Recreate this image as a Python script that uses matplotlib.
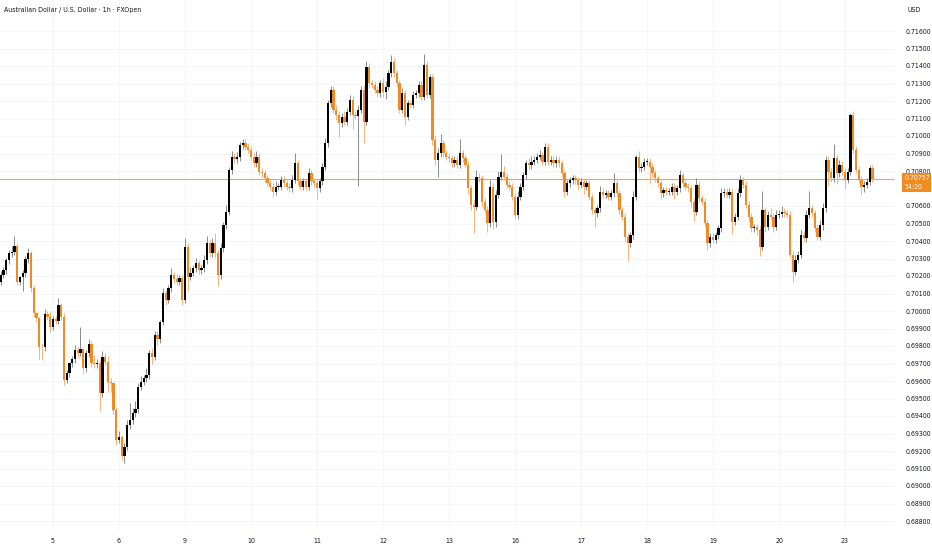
import numpy as np
import matplotlib.pyplot as plt
from matplotlib.patches import Rectangle

# hourly closes, AUD/USD (FXOpen)
closes = [
    0.70206, 0.70234, 0.70291, 0.70330, 0.70339, 0.70371, 0.70168, 0.70192, 0.70215, 0.70295, 0.70330, 0.70130,
    0.69987, 0.69958, 0.69796, 0.69792, 0.69981, 0.69968, 0.69910, 0.69952, 0.69945, 0.70034, 0.69968, 0.69606,
    0.69644, 0.69701, 0.69724, 0.69777, 0.69762, 0.69781, 0.69672, 0.69758, 0.69811, 0.69701, 0.69697, 0.69705,
    0.69530, 0.69739, 0.69710, 0.69596, 0.69587, 0.69434, 0.69263, 0.69282, 0.69170, 0.69225, 0.69348, 0.69377,
    0.69415, 0.69438, 0.69567, 0.69596, 0.69615, 0.69634, 0.69758, 0.69739, 0.69863, 0.69838, 0.69939, 0.70101,
    0.70063, 0.70129, 0.70205, 0.70181, 0.70167, 0.70186, 0.70063, 0.70367, 0.70196, 0.70219, 0.70244, 0.70272,
    0.70234, 0.70244, 0.70291, 0.70386, 0.70329, 0.70386, 0.70329, 0.70205, 0.70358, 0.70491, 0.70567, 0.70805,
    0.70882, 0.70866, 0.70878, 0.70948, 0.70962, 0.70939, 0.70920, 0.70882, 0.70844, 0.70882, 0.70797, 0.70787,
    0.70759, 0.70730, 0.70711, 0.70682, 0.70711, 0.70711, 0.70749, 0.70730, 0.70711, 0.70701, 0.70749, 0.70844,
    0.70740, 0.70711, 0.70740, 0.70711, 0.70787, 0.70740, 0.70730, 0.70701, 0.70740, 0.70825, 0.70959, 0.71187,
    0.71263, 0.71149, 0.71120, 0.71073, 0.71111, 0.71082, 0.71139, 0.71206, 0.71120, 0.71115, 0.71149, 0.71263,
    0.71082, 0.71397, 0.71301, 0.71292, 0.71263, 0.71244, 0.71301, 0.71254, 0.71282, 0.71359, 0.71425, 0.71359,
    0.71301, 0.71149, 0.71244, 0.71111, 0.71187, 0.71178, 0.71235, 0.71244, 0.71292, 0.71225, 0.71406, 0.71235,
    0.71336, 0.70978, 0.70863, 0.70901, 0.70959, 0.70901, 0.70882, 0.70873, 0.70844, 0.70863, 0.70835, 0.70901,
    0.70873, 0.70835, 0.70701, 0.70606, 0.70597, 0.70768, 0.70759, 0.70625, 0.70578, 0.70501, 0.70711, 0.70511,
    0.70663, 0.70768, 0.70797, 0.70768, 0.70720, 0.70711, 0.70653, 0.70548, 0.70653, 0.70710, 0.70777, 0.70844,
    0.70834, 0.70853, 0.70863, 0.70882, 0.70891, 0.70853, 0.70939, 0.70853, 0.70863, 0.70844, 0.70863, 0.70844,
    0.70786, 0.70682, 0.70729, 0.70748, 0.70758, 0.70748, 0.70720, 0.70739, 0.70710, 0.70729, 0.70653, 0.70577,
    0.70558, 0.70586, 0.70682, 0.70663, 0.70672, 0.70653, 0.70672, 0.70729, 0.70672, 0.70577, 0.70539, 0.70424,
    0.70386, 0.70434, 0.70653, 0.70882, 0.70815, 0.70825, 0.70853, 0.70853, 0.70825, 0.70787, 0.70758, 0.70729,
    0.70672, 0.70691, 0.70682, 0.70682, 0.70710, 0.70682, 0.70701, 0.70777, 0.70729, 0.70710, 0.70701, 0.70625,
    0.70567, 0.70720, 0.70644, 0.70625, 0.70501, 0.70387, 0.70425, 0.70406, 0.70434, 0.70472, 0.70672, 0.70682,
    0.70663, 0.70682, 0.70510, 0.70539, 0.70672, 0.70748, 0.70720, 0.70606, 0.70539, 0.70472, 0.70478, 0.70463,
    0.70367, 0.70577, 0.70482, 0.70549, 0.70539, 0.70482, 0.70549, 0.70555, 0.70568, 0.70558, 0.70549, 0.70320,
    0.70225, 0.70292, 0.70320, 0.70435, 0.70416, 0.70549, 0.70587, 0.70558, 0.70473, 0.70425, 0.70492, 0.70587,
    0.70863, 0.70796, 0.70758, 0.70873, 0.70787, 0.70835, 0.70796, 0.70749, 0.70796, 0.71120, 0.70920, 0.70806,
    0.70749, 0.70711, 0.70720, 0.70739, 0.70816, 0.70757,
]
first_open = 0.70168

# wick lengths in pips above / below the body
wick_up = [
    2, 2, 1, 2, 3, 6, 2, 1, 2, 2, 3, 1,
    2, 1, 1, 2, 3, 2, 3, 2, 2, 4, 1, 2,
    2, 1, 2, 3, 2, 13, 1, 2, 3, 2, 5, 2,
    2, 3, 2, 3, 2, 1, 2, 3, 1, 2, 3, 10,
    3, 5, 2, 3, 2, 4, 2, 3, 2, 2, 1, 3,
    2, 2, 4, 2, 3, 2, 2, 5, 2, 3, 2, 3,
    2, 2, 3, 4, 2, 3, 6, 2, 3, 2, 4, 2,
    3, 2, 3, 2, 2, 2, 2, 2, 2, 3, 2, 2,
    2, 2, 2, 2, 3, 2, 2, 2, 2, 2, 3, 6,
    2, 2, 2, 2, 3, 2, 2, 2, 2, 2, 3, 2,
    2, 2, 3, 2, 2, 3, 2, 3, 2, 2, 3, 2,
    3, 3, 2, 2, 2, 2, 2, 3, 3, 2, 4, 2,
    2, 2, 3, 2, 2, 2, 2, 2, 2, 2, 6, 2,
    2, 2, 3, 3, 5, 2, 2, 2, 2, 2, 2, 8,
    2, 2, 2, 2, 3, 4, 2, 2, 2, 2, 4, 2,
    3, 3, 10, 3, 2, 2, 2, 2, 3, 2, 2, 2,
    3, 3, 2, 2, 3, 2, 2, 2, 2, 2, 2, 2,
    2, 2, 2, 2, 2, 2, 2, 2, 2, 2, 2, 2,
    2, 2, 3, 2, 2, 2, 2, 6, 2, 2, 2, 2,
    2, 2, 3, 1, 3, 2, 2, 2, 2, 2, 2, 2,
    2, 2, 2, 2, 2, 2, 2, 3, 2, 2, 2, 2,
    2, 4, 2, 2, 2, 2, 2, 2, 2, 2, 3, 2,
    2, 2, 2, 2, 3, 3, 2, 2, 2, 2, 2, 2,
    2, 11, 2, 2, 4, 2, 3, 2, 3, 2, 2, 2,
    2, 3, 2, 3, 2, 3, 10, 2, 2, 2, 3, 3,
    2, 2, 2, 8, 2, 3, 2, 2, 2, 1, 2, 2,
    2, 2, 2, 2, 2, 2,
]
wick_dn = [
    2, 2, 2, 2, 2, 2, 2, 2, 8, 2, 2, 2,
    2, 2, 7, 7, 2, 2, 3, 2, 2, 2, 2, 3,
    2, 2, 2, 2, 3, 2, 3, 2, 2, 2, 2, 2,
    10, 2, 2, 6, 5, 2, 3, 2, 2, 4, 2, 2,
    2, 2, 2, 2, 2, 2, 2, 4, 2, 3, 2, 2,
    3, 2, 2, 2, 2, 2, 3, 2, 8, 2, 2, 2,
    2, 2, 2, 2, 2, 2, 2, 6, 2, 2, 2, 2,
    2, 2, 2, 2, 2, 2, 2, 2, 2, 2, 2, 2,
    2, 2, 2, 3, 2, 2, 2, 2, 2, 2, 2, 2,
    2, 2, 2, 2, 2, 2, 2, 6, 2, 2, 2, 2,
    2, 2, 3, 8, 2, 2, 2, 2, 8, 2, 40, 2,
    12, 2, 2, 2, 2, 2, 2, 3, 4, 2, 2, 2,
    2, 2, 2, 5, 2, 2, 2, 2, 2, 2, 2, 2,
    2, 3, 3, 10, 2, 2, 2, 2, 2, 2, 2, 2,
    2, 2, 3, 3, 15, 2, 2, 3, 2, 5, 2, 4,
    3, 2, 2, 2, 2, 2, 2, 2, 2, 2, 2, 2,
    2, 2, 2, 2, 2, 2, 2, 2, 2, 2, 2, 2,
    2, 3, 2, 2, 2, 2, 3, 2, 4, 2, 2, 2,
    8, 2, 2, 2, 2, 2, 2, 2, 2, 2, 2, 3,
    10, 2, 2, 2, 2, 2, 2, 2, 10, 2, 2, 2,
    3, 2, 2, 2, 2, 4, 2, 2, 2, 2, 2, 3,
    5, 2, 2, 2, 2, 4, 2, 2, 2, 2, 2, 2,
    2, 2, 7, 2, 2, 2, 2, 2, 3, 2, 2, 3,
    5, 2, 3, 2, 2, 3, 2, 2, 2, 2, 2, 2,
    6, 2, 2, 2, 2, 2, 2, 2, 2, 2, 2, 3,
    2, 8, 2, 2, 6, 2, 2, 5, 2, 2, 2, 2,
    2, 5, 3, 2, 2, 2,
]

day_labels = ['5', '6', '9', '10', '11', '12', '13', '16', '17', '18', '19', '20', '23']
day_starts = [19, 43, 67, 91, 115, 139, 163, 187, 211, 235, 259, 283, 307]
price_ticks = [0.688, 0.689, 0.690, 0.691, 0.692, 0.693, 0.694, 0.695, 0.696, 0.697,
               0.698, 0.699, 0.700, 0.701, 0.702, 0.703, 0.704, 0.705, 0.706,
               0.708, 0.709, 0.710, 0.711, 0.712, 0.713, 0.714, 0.715, 0.716]
last_price = 0.70757
countdown = '54:20'

plt.rcParams['font.family'] = ['DejaVu Sans']
plt.rcParams['font.stretch'] = 'condensed'

up_body = '#000000'
up_wick = '#8a8a8a'
dn_body = '#f08a24'
dn_wick = '#f5b57a'
pip = 0.0001

opens = [first_open] + closes[:-1]
idx = np.arange(len(closes))
o = np.array(opens)
c = np.array(closes)
hi = np.maximum(o, c) + np.array(wick_up) * pip
lo = np.minimum(o, c) - np.array(wick_dn) * pip
rising = c >= o

fig = plt.figure(figsize=(9.32, 5.5), dpi=100)
ax = fig.add_axes([0, 20 / 550, 895 / 932, 530 / 550])

# last price line
ax.plot([-1, 330], [last_price, last_price], color='#f7a150', lw=0.8, zorder=1.5)

# wicks first, bodies on top
ax.vlines(idx[rising], lo[rising], hi[rising], color=up_wick, lw=0.7, zorder=2)
ax.vlines(idx[~rising], lo[~rising], hi[~rising], color=dn_wick, lw=0.7, zorder=2)
body_h = np.maximum(np.abs(c - o), 0.00004)
ax.bar(idx[rising], body_h[rising], bottom=np.minimum(o, c)[rising], width=0.85,
       color=up_body, lw=0, zorder=3)
ax.bar(idx[~rising], body_h[~rising], bottom=np.minimum(o, c)[~rising], width=0.85,
       color=dn_body, lw=0, zorder=3)

ax.set_xlim(-0.27, 325.2)
ax.set_ylim(0.716 - 499 / 17500, 0.716 + 31 / 17500)

ax.set_xticks(day_starts)
ax.set_xticklabels(day_labels)
ax.yaxis.tick_right()
ax.set_yticks(price_ticks)
ax.set_yticklabels(['%.5f' % p for p in price_ticks])
ax.tick_params(axis='y', length=0, pad=8, labelsize=5, labelcolor='#131722')
ax.tick_params(axis='x', length=0, pad=6, labelsize=5, labelcolor='#131722')
ax.grid(True, color='#f2f4f8', lw=0.6, zorder=0)
ax.set_axisbelow(True)
for s in ax.spines.values():
    s.set_visible(False)

fig.text(4 / 932, 1 - 10 / 550, 'Australian Dollar / U.S. Dollar · 1h · FXOpen',
         fontsize=5, color='#131722', va='center', ha='left')
fig.text(907 / 932, 1 - 10 / 550, 'USD', fontsize=5, color='#131722', va='center', ha='left')

# last price tag on the scale
fig.patches.append(Rectangle((902 / 932, 1 - 192 / 550), 29 / 932, 19 / 550,
                             transform=fig.transFigure, color='#f28b20', lw=0, zorder=5))
fig.text(905 / 932, 1 - 178 / 550, '%.5f' % last_price, fontsize=5, color='white',
         va='center', zorder=6)
fig.text(905 / 932, 1 - 187 / 550, countdown, fontsize=5, color='white', va='center', zorder=6)

plt.savefig('out.png', dpi=100)
